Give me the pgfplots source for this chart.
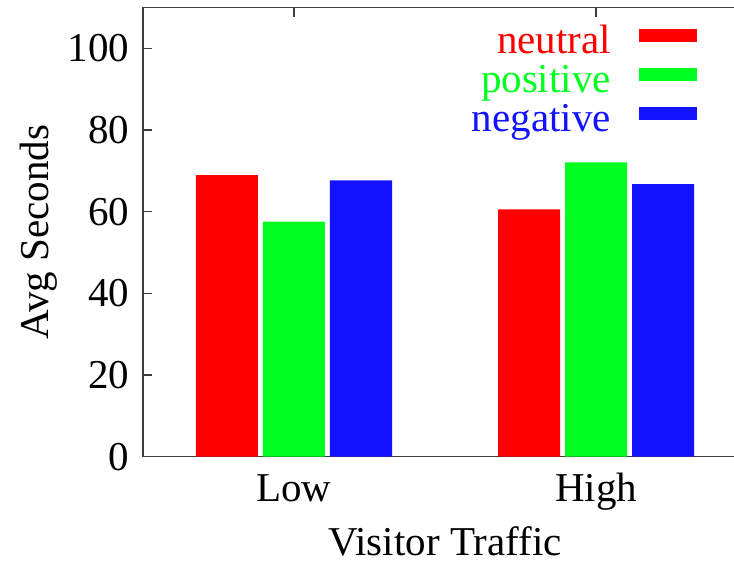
\documentclass[border=0pt]{standalone}
\usepackage{pgfplots}
\pgfplotsset{compat=1.18}
\usepackage{pgfplotstable}
\usepackage{fontspec}
\setmainfont{Liberation Serif}
\setsansfont{Liberation Serif}
\definecolor{cred}{RGB}{255,0,0}
\definecolor{cgreen}{RGB}{0,255,32}
\definecolor{cblue}{RGB}{18,18,255}
\definecolor{axgray}{RGB}{60,60,60}
\newcommand{\bigfont}{\rmfamily\fontsize{41bp}{49bp}\selectfont}
\pgfplotstableread{
x neutral positive negative
0 69.0 57.6 67.7
1 60.6 72.1 66.8
}\datatable
\begin{document}
\bigfont
\begin{tikzpicture}[font=\bigfont]
\begin{axis}[
  scale only axis, width=604bp, height=449bp,
  xmin=-0.5, xmax=1.5, ymin=0, ymax=110,
  xtick={0,1}, xticklabels={Low,High},
  ytick={0,20,40,60,80,100},
  tick align=inside, ytick pos=left, xtick pos=right, xticklabel pos=left,
  major tick length=9bp,
  axis line style={line width=1.4bp, axgray},
  tick style={line width=1.4bp, axgray},
  /pgf/number format/assume math mode=true,
  ticklabel style={font=\bigfont},
  xticklabel style={anchor=base, yshift=-45bp},
  xlabel={Visitor Traffic},
  ylabel={Avg Seconds},
  label style={font=\bigfont},
  xlabel style={at={(axis description cs:0.5,0)}, anchor=base, inner sep=0pt, text depth=0pt, yshift=-99bp},
  ylabel style={at={(axis description cs:-0.172,0.5)}, anchor=center},
  legend plot pos=right,
  legend cell align=right,
  legend image code/.code={\path (0bp,0bp); \fill (28bp,2.5bp) rectangle (86bp,15.5bp);},
  legend style={draw=none, fill=none, at={(rel axis cs:0.917,0.961)}, anchor=north east,
    inner sep=0pt, outer sep=0pt, row sep=0pt,
    nodes={inner sep=0pt, text height=28bp, text depth=11bp, font=\bigfont},
    font=\bigfont},
]
\addplot[ybar, bar width=62bp, bar shift=-67bp, fill=cred, draw=none] table[x=x, y=neutral] {\datatable};
\addlegendentry{\textcolor{cred}{neutral}}
\addplot[ybar, bar width=62bp, bar shift=0bp, fill=cgreen, draw=none] table[x=x, y=positive] {\datatable};
\addlegendentry{\textcolor{cgreen}{positive}}
\addplot[ybar, bar width=62bp, bar shift=67bp, fill=cblue, draw=none] table[x=x, y=negative] {\datatable};
\addlegendentry{\textcolor{cblue}{negative}}
\end{axis}
\pgfresetboundingbox
\path[use as bounding box] (-143bp,-107bp) rectangle (591bp,456.7bp);
\end{tikzpicture}
\end{document}
